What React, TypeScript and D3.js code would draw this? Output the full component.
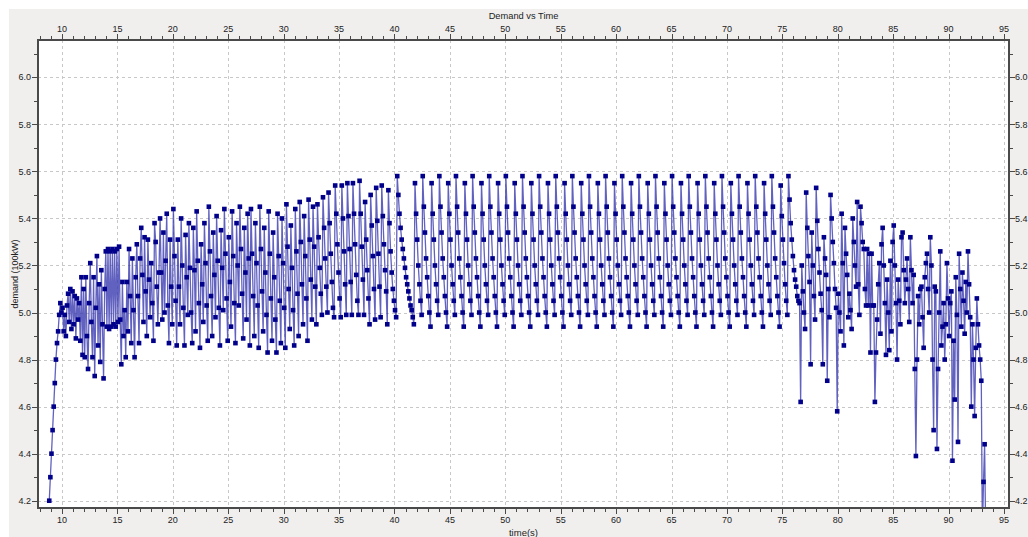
import React from "react";
import * as d3 from "d3";

// sample spacing of the logger (s)
const dt = 0.1;

// demand (100kW), grouped by stretch of the run
const rampStart = 8.85;
const rampUp = [4.2, 4.3, 4.4, 4.5, 4.6, 4.7, 4.8, 4.87, 4.92, 4.99, 5.04];

const earlyStart = 9.95;
const earlyNoise = [
  5.0, 5.02, 4.92, 4.99, 4.9, 5.03, 5.08, 4.96, 5.1, 4.93,
  5.09, 4.95, 5.07, 4.89, 5.06, 4.97, 5.04, 4.88, 5.15, 4.82,
  5.1, 4.81, 5.15, 4.9, 4.76, 5.04, 5.21, 4.96, 4.81, 5.15,
  4.73, 5.02, 5.24, 4.86, 5.12, 4.79, 5.18, 4.95, 4.72, 5.1,
];

const blockStart = 13.95;
const earlyBlock = [5.26, 4.94, 5.27, 4.93, 5.26, 4.94, 5.27, 4.95, 5.26, 4.94, 5.27, 4.96, 5.28, 4.97];

const risingStart = 15.35;
const risingBand = [
  4.78, 5.13, 4.9, 5.01, 4.81, 5.13, 4.92, 5.27, 5.07, 4.87,
  5.23, 5.01, 4.81, 5.15, 5.29, 5.07, 4.87, 5.23, 5.36, 5.16,
  4.96, 5.32, 5.09, 4.9, 5.31, 5.14, 4.98, 5.21, 5.04, 4.88,
  5.38, 5.3, 5.11, 4.95, 5.17, 5.4, 5.17, 4.97, 5.34, 5.0,
  5.22, 5.42, 5.03, 4.87, 5.31, 5.11, 4.95,
  5.44, 5.24, 5.05, 4.86, 5.31, 5.11, 4.95, 5.4, 5.2, 5.02, 4.86,
  5.33, 5.15, 4.99, 5.38, 5.19, 5.0, 4.87, 5.36, 5.18, 4.92,
  5.43, 5.22, 5.04, 4.85, 5.29, 5.12, 4.96, 5.38, 5.21, 5.03, 4.88,
  5.45, 5.26, 5.07, 4.9, 5.34, 5.16, 4.98, 5.41, 5.22, 5.02, 4.86,
  5.35, 5.19, 5.01, 5.44, 5.25, 5.06, 4.88, 5.32, 5.13, 4.94,
  5.43, 5.24, 5.04, 4.87, 5.38, 5.2, 5.03, 5.45, 5.27, 5.08, 4.89,
  5.36, 5.17, 4.97, 5.42, 5.23, 4.86,
  5.44, 5.25, 5.07, 4.9, 5.38, 5.21, 5.03, 4.85, 5.45, 5.27, 5.09, 4.92,
  5.36, 5.17, 4.99, 4.83, 5.43, 5.25, 5.06, 4.88, 5.34, 5.15, 4.97, 4.83,
  5.42, 5.24, 5.05, 4.87, 5.4, 5.21, 5.02, 4.85, 5.46, 5.28, 5.1, 4.93,
  5.37, 5.19, 5.01, 4.86, 5.44, 5.26, 5.08, 4.9, 5.47, 5.3, 5.12, 4.95,
  5.41, 5.24, 5.06, 4.88, 5.48, 5.31, 5.14, 4.97, 5.45, 5.28, 5.11, 4.95,
];

const upperStart = 33.05;
const upperBand = [
  5.46, 5.32, 5.19, 5.08, 4.99,
  5.49, 5.36, 5.23, 5.11, 5.0,
  5.51, 5.38, 5.25, 5.13, 5.02, 4.98,
  5.54, 5.42, 5.29, 5.17, 5.06, 4.98,
  5.54, 5.4, 5.26, 5.12, 4.99,
  5.55, 5.41, 5.27, 5.13, 4.99,
  5.55, 5.42, 5.29, 5.16, 5.05, 4.99,
  5.56, 5.42, 5.28, 5.14, 4.99,
  5.47, 5.31, 5.18, 5.06, 4.95,
  5.5, 5.37, 5.24, 5.1, 4.97,
  5.53, 5.39, 5.25, 5.11, 4.98,
  5.54, 5.41, 5.29, 5.18, 5.09, 4.95,
  5.52, 5.38, 5.26, 5.17, 5.1, 5.05, 5.01, 4.98,
];

const decayStart = 40.25;
const longDecay = [5.58, 5.5, 5.42, 5.36, 5.31, 5.27, 5.23, 5.19, 5.15, 5.12, 5.09, 5.06, 5.03, 5.01, 4.98, 4.95];

const steadyStart = 41.85;
const steadyCycle = [
  5.55, 5.42, 5.31, 5.2, 5.12, 5.05, 4.99, 5.58, 5.45, 5.34, 5.23, 5.15, 5.07, 5.0, 4.94,
  5.55, 5.42, 5.31, 5.2, 5.12, 5.05, 4.99, 5.58, 5.45, 5.34, 5.23, 5.15, 5.07, 5.0, 4.94,
  5.55, 5.42, 5.31, 5.2, 5.12, 5.05, 4.99, 5.58, 5.45, 5.34, 5.23, 5.15, 5.07, 5.0, 4.94,
  5.55, 5.42, 5.31, 5.2, 5.12, 5.05, 4.99, 5.58, 5.45, 5.34, 5.23, 5.15, 5.07, 5.0, 4.94,
  5.55, 5.42, 5.31, 5.2, 5.12, 5.05, 4.99, 5.58, 5.45, 5.34, 5.23, 5.15, 5.07, 5.0, 4.94,
  5.55, 5.42, 5.31, 5.2, 5.12, 5.05, 4.99, 5.58, 5.45, 5.34, 5.23, 5.15, 5.07, 5.0, 4.94,
  5.55, 5.42, 5.31, 5.2, 5.12, 5.05, 4.99, 5.58, 5.45, 5.34, 5.23, 5.15, 5.07, 5.0, 4.94,
  5.55, 5.42, 5.31, 5.2, 5.12, 5.05, 4.99, 5.58, 5.45, 5.34, 5.23, 5.15, 5.07, 5.0, 4.94,
  5.55, 5.42, 5.31, 5.2, 5.12, 5.05, 4.99, 5.58, 5.45, 5.34, 5.23, 5.15, 5.07, 5.0, 4.94,
  5.55, 5.42, 5.31, 5.2, 5.12, 5.05, 4.99, 5.58, 5.45, 5.34, 5.23, 5.15, 5.07, 5.0, 4.94,
  5.55, 5.42, 5.31, 5.2, 5.12, 5.05, 4.99, 5.58, 5.45, 5.34, 5.23, 5.15, 5.07, 5.0, 4.94,
  5.55, 5.42, 5.31, 5.2, 5.12, 5.05, 4.99, 5.58, 5.45, 5.34, 5.23, 5.15, 5.07, 5.0, 4.94,
  5.55, 5.42, 5.31, 5.2, 5.12, 5.05, 4.99, 5.58, 5.45, 5.34, 5.23, 5.15, 5.07, 5.0, 4.94,
  5.55, 5.42, 5.31, 5.2, 5.12, 5.05, 4.99, 5.58, 5.45, 5.34, 5.23, 5.15, 5.07, 5.0, 4.94,
  5.55, 5.42, 5.31, 5.2, 5.12, 5.05, 4.99, 5.58, 5.45, 5.34, 5.23, 5.15, 5.07, 5.0, 4.94,
  5.55, 5.42, 5.31, 5.2, 5.12, 5.05, 4.99, 5.58, 5.45, 5.34, 5.23, 5.15, 5.07, 5.0, 4.94,
  5.55, 5.42, 5.31, 5.2, 5.12, 5.05, 4.99, 5.58, 5.45, 5.34, 5.23, 5.15, 5.07, 5.0, 4.94,
  5.55, 5.42, 5.31, 5.2, 5.12, 5.05, 4.99, 5.58, 5.45, 5.34, 5.23, 5.15, 5.07, 5.0, 4.94,
  5.55, 5.42, 5.31, 5.2, 5.12, 5.05, 4.99, 5.58, 5.45, 5.34, 5.23, 5.15, 5.07, 5.0, 4.94,
  5.55, 5.42, 5.31, 5.2, 5.12, 5.05, 4.99, 5.58, 5.45, 5.34, 5.23, 5.15, 5.07, 5.0, 4.94,
  5.55, 5.42, 5.31, 5.2, 5.12, 5.05, 4.99, 5.58, 5.45, 5.34, 5.23, 5.15, 5.07, 5.0, 4.94,
  5.55, 5.42, 5.31, 5.2, 5.12, 5.05, 4.99, 5.58, 5.45, 5.34, 5.23, 5.15, 5.07, 5.0, 4.94,
  5.54, 5.41, 5.31, 5.21, 5.12, 5.05, 4.99,
];

const lateStart = 75.55;
const lateDecay = [5.58, 5.48, 5.38, 5.31, 5.24, 5.18, 5.14, 5.11, 5.07, 5.05, 5.04];

const tailStart = 76.65;
const tailNoise = [
  4.62, 5.2, 5.09, 5.0, 4.93, 5.51, 5.36, 5.24, 5.13, 4.78,
  5.34, 5.2, 5.07, 4.97, 5.53, 5.39, 5.27, 5.17, 5.08, 5.01,
  4.78, 5.32, 5.23, 5.16, 4.71, 5.1, 4.98, 5.5, 5.4, 5.3,
  5.21, 5.1, 5.02, 4.58, 5.08, 5.0, 4.92, 5.42, 5.21, 4.86,
  5.36, 5.25, 5.16, 4.98, 5.08, 5.01, 4.93, 5.4, 5.3, 5.2,
  5.11, 5.47, 5.12, 4.99, 5.45, 5.38, 5.3, 5.27, 5.1, 5.03,
  5.27, 5.03, 5.25, 4.83, 5.25, 5.03, 5.03, 4.62, 4.83,
  4.97, 5.12, 5.21, 4.91, 5.29, 5.36, 5.2, 5.04, 4.82, 5.14,
  5.0, 4.84, 5.22, 4.92, 5.3, 5.37, 5.2, 5.04, 4.8, 5.14,
  5.05, 4.95, 5.32, 5.34, 5.18, 5.04, 5.14, 5.23, 5.1, 4.96,
  5.32, 5.18, 5.04, 5.16, 4.76, 4.39, 4.8, 5.07, 4.95, 5.1,
  5.11, 4.98, 4.85, 5.15, 5.21, 5.25, 5.1, 5.0, 5.32, 5.2,
  4.8, 4.5, 5.11, 5.09, 4.42, 4.76, 5.0, 5.26, 4.86, 4.94,
  5.04, 4.8, 4.95, 5.21, 5.06, 4.9, 5.04, 5.09, 4.37, 4.88,
  4.63, 5.15, 4.99, 4.45, 5.25, 5.1, 4.94, 5.17, 5.05, 4.91,
  5.13, 5.0, 5.26, 5.12, 4.98, 4.6, 4.95, 4.8, 4.56, 4.85,
  5.06, 4.95, 4.86, 4.8, 4.71, 4.05, 4.28, 4.44, 4.05,
];

const segments: [number, number[]][] = [
  [rampStart, rampUp],
  [earlyStart, earlyNoise],
  [blockStart, earlyBlock],
  [risingStart, risingBand],
  [upperStart, upperBand],
  [decayStart, longDecay],
  [steadyStart, steadyCycle],
  [lateStart, lateDecay],
  [tailStart, tailNoise],
];

const xTicks = [10, 15, 20, 25, 30, 35, 40, 45, 50, 55, 60, 65, 70, 75, 80, 85, 90, 95];
const yTicks = [4.2, 4.4, 4.6, 4.8, 5.0, 5.2, 5.4, 5.6, 5.8, 6.0];

const W = 1028;
const H = 537;
const plot = { left: 38, top: 40, right: 1009, bottom: 508 };
const font = "'Liberation Sans', Arial, sans-serif";

export default function App() {
  const x = d3.scaleLinear().domain([7.834, 95.451]).range([plot.left, plot.right]);
  const y = d3.scaleLinear().domain([4.169, 6.1586]).range([plot.bottom, plot.top]);

  const points = segments.flatMap(([start, vals]) =>
    vals.map((v, i) => ({ t: start + i * dt, v }))
  );

  const line = d3
    .line<{ t: number; v: number }>()
    .x((d) => x(d.t))
    .y((d) => y(d.v));

  const xMinor = d3.range(8, 96, 1);
  const yMinor = d3.range(42, 62, 1).map((d) => d / 10);
  const ms = 4.6;

  return (
    <svg width={W} height={H} style={{ position: "fixed", left: 0, top: 0, display: "block" }}>
      <rect x={9} y={9} width={W - 9} height={H - 9} fill="#f0efee" />
      <defs>
        <clipPath id="plotClip">
          <rect x={plot.left} y={plot.top} width={plot.right - plot.left} height={plot.bottom - plot.top} />
        </clipPath>
      </defs>
      <rect x={plot.left} y={plot.top} width={plot.right - plot.left} height={plot.bottom - plot.top} fill="#fff" />

      {/* grid */}
      <g stroke="#c8c8c8" strokeDasharray="3,3" strokeWidth={1}>
        {xTicks.map((t) => (
          <line key={"gx" + t} x1={Math.round(x(t)) + 0.5} x2={Math.round(x(t)) + 0.5} y1={plot.top} y2={plot.bottom} />
        ))}
        {yTicks.map((t) => (
          <line key={"gy" + t} x1={plot.left} x2={plot.right} y1={Math.round(y(t)) + 0.5} y2={Math.round(y(t)) + 0.5} />
        ))}
      </g>

      {/* trace */}
      <g clipPath="url(#plotClip)">
        <path d={line(points) || ""} fill="none" stroke="#3a3ab0" strokeOpacity={0.8} strokeWidth={1.3} />
        {points.map((p, i) => (
          <rect key={i} x={x(p.t) - ms / 2} y={y(p.v) - ms / 2} width={ms} height={ms} fill="#00008b" />
        ))}
      </g>

      {/* frame */}
      <rect x={plot.left} y={plot.top} width={plot.right - plot.left} height={plot.bottom - plot.top} fill="none" stroke="#4a4a4a" strokeWidth={2} />

      {/* ticks */}
      <g stroke="#4a4a4a" strokeWidth={1}>
        {xMinor.map((t) => {
          const major = t % 5 === 0;
          const px = Math.round(x(t)) + 0.5;
          const len = major ? 5 : 3;
          return (
            <g key={"xt" + t}>
              <line x1={px} x2={px} y1={plot.top - 1} y2={plot.top - 1 - len} />
              <line x1={px} x2={px} y1={plot.bottom + 1} y2={plot.bottom + 1 + len} />
            </g>
          );
        })}
        {yMinor.map((t, i) => {
          const major = i % 2 === 0;
          const py = Math.round(y(t)) + 0.5;
          const len = major ? 5 : 3;
          return (
            <g key={"yt" + t}>
              <line x1={plot.left - 1} x2={plot.left - 1 - len} y1={py} y2={py} />
              <line x1={plot.right + 1} x2={plot.right + 1 + len} y1={py} y2={py} />
            </g>
          );
        })}
      </g>

      {/* tick labels */}
      <g fontFamily={font} fontSize={9} fill="#222">
        {xTicks.map((t) => (
          <g key={"xl" + t}>
            <text x={x(t)} y={plot.top - 8} textAnchor="middle">{t}</text>
            <text x={x(t)} y={plot.bottom + 15} textAnchor="middle">{t}</text>
          </g>
        ))}
        {yTicks.map((t) => (
          <g key={"yl" + t}>
            <text x={plot.left - 7} y={y(t)} dy="0.35em" textAnchor="end">{t.toFixed(1)}</text>
            <text x={plot.right + 6} y={y(t)} dy="0.35em" textAnchor="start">{t.toFixed(1)}</text>
          </g>
        ))}
      </g>

      <text x={(plot.left + plot.right) / 2} y={19} textAnchor="middle" fontFamily={font} fontSize={9.3} fill="#222">
        Demand vs Time
      </text>
      <text x={(plot.left + plot.right) / 2} y={536} textAnchor="middle" fontFamily={font} fontSize={9.5} fill="#222">
        time(s)
      </text>
      <text
        transform={`translate(${17.5}, ${(plot.top + plot.bottom) / 2}) rotate(-90)`}
        textAnchor="middle"
        fontFamily={font}
        fontSize={9}
        fill="#222"
      >
        demand (100kW)
      </text>
    </svg>
  );
}
